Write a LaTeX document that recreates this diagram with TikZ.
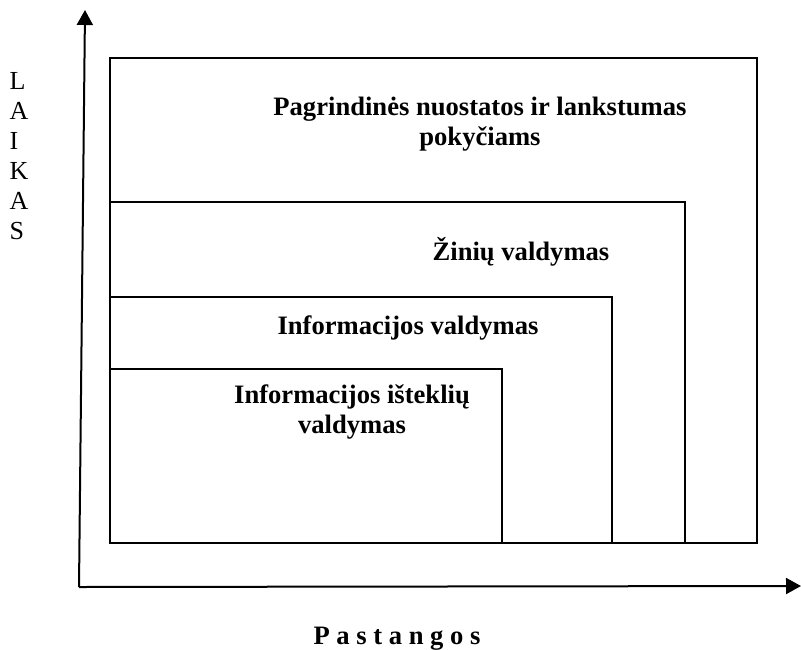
\documentclass[tikz,border=0pt]{standalone}
\usepackage{fontspec}
\setmainfont{Liberation Serif}
\usetikzlibrary{arrows.meta}
\begin{document}
\begin{tikzpicture}[x=1pt,y=-1pt,
  box/.style={draw=black,line width=2pt},
  axis/.style={line width=2pt,-{Triangle[length=15pt,width=16pt]}},
  lbl/.style={font=\fontsize{26.6}{29.5}\selectfont\bfseries,align=center,inner sep=0pt,anchor=base}]
\useasboundingbox (0,0) rectangle (801,649);
% rectangles
\draw[box] (110,58) rectangle (757,543);
\draw[box] (110,202) -- (685,202) -- (685,543);
\draw[box] (110,297) -- (612,297) -- (612,543);
\draw[box] (110,369) -- (502,369) -- (502,543);
% axes
\coordinate (o) at (79,587);
\coordinate (ytop) at (85,10);
\coordinate (xend) at (801,586);
\draw[axis] (o) -- (ytop);
\draw[axis] (o) -- (xend);
% labels
\node[lbl] (t1) at (480,145) {Pagrindinės nuostatos ir lankstumas\\pokyčiams};
\node[lbl] (t2) at (521,260) {Žinių valdymas};
\node[lbl] (t3) at (408,334) {Informacijos valdymas};
\node[lbl] (t4) at (352,433) {Informacijos išteklių\\valdymas};
\node[lbl] (px) at (397,644) {P a s t a n g o s};
\node[font=\fontsize{26}{30}\selectfont,align=left,inner sep=0pt,anchor=base west] (py) at (9.5,239) {L\\A\\I\\K\\A\\S};
\end{tikzpicture}
\end{document}
